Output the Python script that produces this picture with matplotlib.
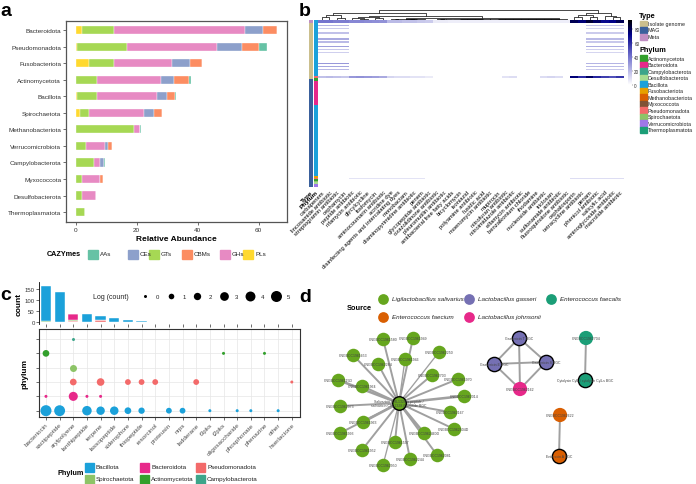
import numpy as np
import matplotlib
matplotlib.use('Agg')
import matplotlib.pyplot as plt
from matplotlib.colors import LinearSegmentedColormap, to_rgb
from matplotlib.patches import Rectangle

plt.rcParams['font.family'] = ['Liberation Sans', 'DejaVu Sans']

# ---------------- panel a data: CAZyme relative abundance ----------------
a_phyla = ['Bacteroidota', 'Pseudomonadota', 'Fusobacteriota', 'Actinomycetota', 'Bacillota',
           'Spirochaetota', 'Methanobacteriota', 'Verrucomicrobiota', 'Campylobacterota',
           'Myxococcota', 'Desulfobacterota', 'Thermoplasmatota']
a_pls = [2.0, 0.5, 4.4, 0.2, 0.5, 1.5, 0, 0, 0, 0, 0, 0]
a_gts = [10.5, 16.4, 8.2, 6.7, 6.6, 2.9, 19.0, 3.4, 6.0, 2.1, 2.1, 2.9]
a_ghs = [43.0, 29.3, 19.0, 21.1, 19.4, 18.0, 2.1, 6.2, 2.0, 5.9, 4.5, 0]
a_ces = [6.0, 8.4, 5.9, 4.1, 3.3, 3.4, 0, 0.9, 1.4, 0, 0, 0]
a_cbms = [4.6, 5.5, 4.0, 5.0, 2.8, 2.6, 0, 1.5, 0, 1.0, 0, 0]
a_aas = [0, 2.5, 0, 0.6, 0.4, 0, 0.3, 0, 0.3, 0, 0, 0]
cazy_legend = ['AAs', 'CEs', 'GTs', 'CBMs', 'GHs', 'PLs']
cazy_colors = {'AAs': '#66C2A5', 'CEs': '#8DA0CB', 'GTs': '#A6D854',
               'CBMs': '#FC8D62', 'GHs': '#E78AC3', 'PLs': '#FFD92F'}

# ---------------- panel b data: ARG heatmap ----------------
b_cols = ['carbapenem', 'lincosamide antibiotic', 'streptogramin antibiotic', 'cephamycin',
          'peptide antibiotic', 'rifamycin antibiotic', 'glycylcycline', 'fosfomycin',
          'aminocoumarin antibiotic', 'acridine dye', 'disinfecting agents and intercalating dyes',
          'monobactam', 'diaminopyrimidine antibiotic', 'penem', 'glycopeptide antibiotic',
          'oxazolidinone antibiotic', 'pleuromutilin antibiotic', 'antibacterial free fatty acids',
          'bicyclomycin', 'isoniazid', 'polyamine antibiotic', 'fusidic acid', 'moenomycin antibiotic',
          'mupirocin', 'nitrofuran antibiotic', 'nitroimidazole antibiotic', 'elfamycin antibiotic',
          'benzalkonium chloride', 'rhodamine', 'nucleoside antibiotic', 'triclosan',
          'sulfonamide antibiotic', 'fluoroquinolone antibiotic', 'cephalosporin',
          'tetracycline antibiotic', 'penam', 'phenicol antibiotic', 'salicylic acid',
          'aminoglycoside antibiotic', 'macrolide antibiotic']
type_runs = [('Meta', 2), ('Isolate genome', 37), ('MAG', 71)]
phylum_runs = [('Bacillota', 37), ('Pseudomonadota', 1), ('Actinomycetota', 2), ('Bacteroidota', 16),
               ('Bacillota', 47), ('Fusobacteriota', 1), ('Pseudomonadota', 1), ('Actinomycetota', 1),
               ('Spirochaetota', 1), ('Desulfobacterota', 1), ('Verrucomicrobiota', 2)]
type_colors = {'Isolate genome': '#CBBF8D', 'MAG': '#3A609C', 'Meta': '#C08EC3'}
phylum_colors = {'Actinomycetota': '#33A02C', 'Bacteroidota': '#E7298A', 'Campylobacterota': '#3DA58A',
                 'Desulfobacterota': '#A8DC90', 'Bacillota': '#1BA1DA', 'Fusobacteriota': '#E6A000',
                 'Methanobacteriota': '#D95F02', 'Myxococcota': '#7F5235', 'Pseudomonadota': '#F36A6A',
                 'Spirochaetota': '#8DC467', 'Verrucomicrobiota': '#9F77E8', 'Thermoplasmatota': '#1B9E77'}
meta_rows = [0, 1]
meta_row = [40, 40, 38, 38, 35, 35, 34, 33, 32, 20, 20, 18, 18, 16, 15, 6, 6, 5, 5, 5,
            5, 5, 5, 5, 5, 5, 5, 5, 5, 5, 5, 5, 5, 80, 75, 85, 78, 70, 72, 80]
band_idx = 37
band_row = [18, 20, 18, 16, 30, 32, 30, 28, 25, 12, 10, 10, 8, 8, 6, 0, 0, 0, 0, 0,
            0, 0, 0, 0, 8, 10, 0, 0, 0, 10, 12, 10, 0, 75, 60, 78, 62, 55, 50, 58]
streak_rows = [3, 5, 8, 12, 14, 17, 19, 21, 28, 30, 32]
streak_left = [22, 15, 18, 25, 20, 28, 16, 14, 30, 26, 20]
streak_right = [18, 12, 15, 20, 16, 24, 14, 12, 22, 20, 16]
faint_idx = 104
faint_row = [0, 0, 0, 0, 8, 8, 8, 8, 8, 8, 8, 8, 8, 8, 0, 0, 0, 0, 0, 0,
             0, 0, 0, 0, 0, 0, 0, 0, 0, 0, 0, 0, 0, 10, 10, 10, 10, 10, 10, 10]
# column dendrogram: (height, left, right), leaves are column indices
flat_cols = list(range(15, 33))
flat_heights = [0.05, 0.07, 0.04, 0.06, 0.08, 0.05, 0.09, 0.04, 0.06, 0.1,
                0.05, 0.07, 0.12, 0.06, 0.05, 0.14, 0.08]

# ---------------- panel c data: BGC counts ----------------
bgc_types = ['bacteriocin', 'sactipeptide', 'arylpolyene', 'lanthipeptide', 'terpene', 'lassopeptide',
             'siderophore', 'thiopeptide', 'resorcinol', 'proteusin', 'nrps', 'ladderane', 't3pks',
             't2pks', 'oligosaccharide', 'phosphonate', 'phenazine', 'other', 'hserlactone']
c_phyla = ['Bacillota', 'Bacteroidota', 'Pseudomonadota', 'Spirochaetota', 'Actinomycetota', 'Campylobacterota']
c_counts = {
    'Bacillota':        [158, 136, 0, 38, 16, 17, 5, 4, 0, 3, 3, 0, 1, 0, 1, 1, 0, 1, 0],
    'Bacteroidota':     [1, 0, 26, 1, 1, 0, 0, 0, 0, 0, 0, 0, 0, 0, 0, 0, 0, 0, 0],
    'Pseudomonadota':   [0, 0, 5, 0, 9, 0, 3, 3, 3, 0, 0, 3, 0, 0, 0, 0, 0, 0, 1],
    'Spirochaetota':    [0, 0, 6, 0, 0, 0, 0, 0, 0, 0, 0, 0, 0, 0, 0, 0, 0, 0, 0],
    'Actinomycetota':   [5, 0, 0, 0, 0, 0, 0, 0, 0, 0, 0, 0, 0, 1, 0, 0, 1, 0, 0],
    'Campylobacterota': [0, 0, 1, 0, 0, 0, 0, 0, 0, 0, 0, 0, 0, 0, 0, 0, 0, 0, 0],
}
c_stack = ['Campylobacterota', 'Pseudomonadota', 'Actinomycetota', 'Spirochaetota', 'Bacteroidota', 'Bacillota']
log_levels = [0, 1, 2, 3, 4, 5]

# ---------------- panel d data: BGC similarity network ----------------
source_colors = {'Ligilactobacillus salivarius': '#66A61E', 'Lactobacillus gasseri': '#7570B3',
                 'Enterococcus faecalis': '#1B9E77', 'Enterococcus faecium': '#D95F02',
                 'Lactobacillus johnsonii': '#E7298A'}
star_hub = 'Salivaricin CRL1328 \u03b1 peptide /\nsalivaricin CRL1328 \u03b2 peptide BGC'
star_leaves = ['CNGBCC1961580', 'CNGBCC1961949', 'CNGBCC1962250', 'CNGBCC1961653', 'CNGBCC1962284',
               'CNGBCC1961946', 'CNGBCC1962703', 'CNGBCC1961970', 'CNGBCC196115D', 'CNGBCC1961964',
               'CNGBCC1962014', 'CNGBCC1962973', 'CNGBCC1962167', 'CNGBCC1961963', 'CNGBCC1962504D',
               'CNGBCC1961993', 'CNGBCC1962460D', 'CNGBCC1961597', 'CNGBCC1961952', 'CNGBCC1962081',
               'CNGBCC1962244', 'CNGBCC1962950']
star_weight = [2, 2, 1, 2, 2, 1, 2, 2, 3, 2, 3, 2, 2, 3, 2, 2, 3, 2, 2, 2, 2, 1]
small_nodes = ['Gassericin T BGC', 'Gassericin E BGC', 'Gassericin S BGC', 'CNGBCC1962162',
               'CNGBCC1962704', 'Cytolysin CylL / cytolysin CylLs BGC', 'CNGBCC1962622', 'Enterocin A BGC']
small_source = ['Lactobacillus gasseri'] * 3 + ['Lactobacillus johnsonii'] + \
               ['Enterococcus faecalis'] * 2 + ['Enterococcus faecium'] * 2
small_is_bgc = [True, True, True, False, False, True, False, True]
small_edges = [(0, 1), (0, 2), (0, 3), (1, 2), (1, 3), (2, 3), (4, 5), (6, 7)]

# node layout of panel d (panel coordinates)
hub_pos = (399, 404)
star_pos = [(383, 340), (413, 339), (439, 353), (353, 356), (378, 365), (405, 360), (432, 376),
            (458, 380), (338, 381), (362, 387), (464, 397), (340, 407), (450, 413), (363, 423),
            (454, 430), (340, 434), (424, 434), (395, 443), (362, 451), (437, 456), (410, 460),
            (383, 466)]
small_pos = [(519, 339), (494, 365), (546, 363), (520, 390), (586, 339), (585, 381), (560, 416), (559, 457)]

# ---------------- figure ----------------
W, H = 696, 485
fig = plt.figure(figsize=(W / 100, H / 100), dpi=100)


def px_axes(x0, y0, x1, y1):
    return fig.add_axes([x0 / W, 1 - y1 / H, (x1 - x0) / W, (y1 - y0) / H])


# ---- a ----
axa = px_axes(66, 22, 287, 223)
ypos = np.arange(len(a_phyla))
left = np.zeros(len(a_phyla))
for name, vals in [('PLs', a_pls), ('GTs', a_gts), ('GHs', a_ghs), ('CEs', a_ces), ('CBMs', a_cbms), ('AAs', a_aas)]:
    axa.barh(ypos, vals, left=left, height=0.5, color=cazy_colors[name], edgecolor='white', linewidth=0.25)
    left += np.array(vals)
axa.set_xlim(-3.2, 69.3)
axa.set_ylim(11.6, -0.55)
axa.set_yticks(ypos, a_phyla)
axa.set_xticks([0, 20, 40, 60])
axa.tick_params(labelsize=4.6, length=2, width=0.5, pad=1.5, colors='#333333')
for s in axa.spines.values():
    s.set_color('#555555')
    s.set_linewidth(0.9)
axa.set_xlabel('Relative Abundance', fontsize=6, fontweight='bold', labelpad=2.5)

# ---- b ----
row_type = [t for t, n in type_runs for _ in range(n)]
row_phylum = [p for p, n in phylum_runs for _ in range(n)]
n_rows, n_cols = len(row_type), len(b_cols)
mat = np.zeros((n_rows, n_cols))
for r in meta_rows:
    mat[r] = meta_row
mat[band_idx] = band_row
for r, vl, vr in zip(streak_rows, streak_left, streak_right):
    mat[r, 0:4] = vl
    mat[r, 35:40] = vr
mat[faint_idx] = faint_row

heat_cmap = LinearSegmentedColormap.from_list(
    'heat', [(0, '#FFFFFF'), (0.45, '#7070CC'), (0.78, '#000088'), (1, '#000000')])
axh = px_axes(318, 21, 624, 188)
im = axh.imshow(mat, aspect='auto', cmap=heat_cmap, vmin=0, vmax=93, interpolation='nearest')
axh.set_yticks([])
axh.set_xticks(range(n_cols), b_cols, rotation=45, ha='right', rotation_mode='anchor', fontsize=4.2)
axh.tick_params(axis='x', length=0, pad=1.5)
for s in axh.spines.values():
    s.set_visible(False)

for (x0, x1), rows, cmap_d, lab in [((309, 312.5), row_type, type_colors, 'Type'),
                                     ((313.5, 317), row_phylum, phylum_colors, 'Phylum')]:
    ax_an = px_axes(x0, 21, x1, 188)
    ax_an.imshow(np.array([to_rgb(cmap_d[v]) for v in rows])[:, None, :], aspect='auto',
                 interpolation='nearest')
    ax_an.set_yticks([])
    ax_an.set_xticks([0], [lab], rotation=45, ha='right', rotation_mode='anchor',
                     fontsize=4.6, fontweight='bold')
    ax_an.tick_params(axis='x', length=0, pad=1.5)
    for s in ax_an.spines.values():
        s.set_visible(False)

# column dendrogram
node = flat_cols[0]
for c, h in zip(flat_cols[1:], flat_heights):
    node = (h, node, c)
dend_tree = (1.0,
             (0.72,
              (0.45, (0.28, 0, 1), (0.22, 2, 3)),
              (0.38,
               (0.26, (0.18, 4, (0.12, 5, 6)), (0.15, 7, 8)),
               (0.2, (0.1, (0.06, 9, 10), (0.08, (0.05, 11, 12), (0.04, 13, 14))), node))),
             (0.66,
              (0.48, (0.3, 33, 34), (0.26, 35, 36)),
              (0.42, 37, (0.3, 38, 39))))

axdn = px_axes(318, 10.5, 624, 21)
axdn.set_xlim(-0.5, n_cols - 0.5)
axdn.set_ylim(0, 1.03)
axdn.axis('off')


def draw_tree(ax, nd):
    if isinstance(nd, int):
        return nd, 0.0
    h, a, b = nd
    xa, ha = draw_tree(ax, a)
    xb, hb = draw_tree(ax, b)
    ax.plot([xa, xa, xb, xb], [ha, h, h, hb], color='black', lw=0.5, solid_capstyle='butt')
    return (xa + xb) / 2, h


draw_tree(axdn, dend_tree)

cax = px_axes(627.5, 21, 631.5, 86)
cb = fig.colorbar(im, cax=cax, ticks=[0, 20, 40, 60, 80])
cb.outline.set_visible(False)
cax.tick_params(labelsize=3.3, length=1, width=0.3, pad=1, colors='#333333')

# ---- c ----
xcat = np.arange(1, len(bgc_types) + 1)
axbar = px_axes(39, 283, 300, 325)
bottom = np.zeros(len(bgc_types))
for ph in c_stack:
    vals = np.array(c_counts[ph])
    axbar.bar(xcat, vals, bottom=bottom, width=0.75, color=phylum_colors[ph], edgecolor='white', linewidth=0.3)
    bottom += vals
axbar.set_xlim(0.49, 19.6)
axbar.set_ylim(-8, 181)
axbar.set_yticks([0, 50, 100, 150])
axbar.set_xticks(xcat, [''] * len(xcat))
axbar.tick_params(labelsize=4.3, length=2, width=0.5, pad=1, colors='#333333')
for s in ['top', 'right', 'bottom']:
    axbar.spines[s].set_visible(False)
axbar.spines['left'].set_linewidth(0.6)
axbar.set_ylabel('count', fontsize=6, fontweight='bold', labelpad=1.5)


def bubble_size(level):
    return 0.5184 * (9 + 22.4 * np.asarray(level))


axbub = px_axes(39, 330, 300, 418)
for i, ph in enumerate(c_phyla):
    cnt = np.array(c_counts[ph])
    keep = cnt > 0
    axbub.scatter(xcat[keep], np.full(keep.sum(), i + 1), s=bubble_size(np.log(cnt[keep])),
                  color=phylum_colors[ph], linewidths=0, zorder=3)
axbub.set_xlim(0.49, 19.6)
axbub.set_ylim(0.56, 6.7)
axbub.set_xticks(xcat, bgc_types, rotation=45, ha='right', rotation_mode='anchor')
axbub.set_yticks(range(1, 7), [''] * 6)
axbub.grid(True, color='#E6E6E6', lw=0.5)
axbub.set_axisbelow(True)
axbub.tick_params(labelsize=4.6, length=2, width=0.5, pad=1.5, colors='#333333', labelcolor='#4D4D4D')
for s in axbub.spines.values():
    s.set_color('#333333')
    s.set_linewidth(0.8)
axbub.set_ylabel('phylum', fontsize=6, fontweight='bold', labelpad=4)

# ---- d ----
axn = px_axes(300, 325, 696, 485)
axn.set_xlim(300, 696)
axn.set_ylim(485, 325)
axn.axis('off')
for (x, y), w in zip(star_pos, star_weight):
    axn.plot([hub_pos[0], x], [hub_pos[1], y], color='#A0A0A0', lw=0.5 + 0.45 * w, zorder=1)
for i, j in small_edges:
    axn.plot([small_pos[i][0], small_pos[j][0]], [small_pos[i][1], small_pos[j][1]],
             color='#A0A0A0', lw=1.4, zorder=1)
sal = source_colors['Ligilactobacillus salivarius']
axn.scatter([p[0] for p in star_pos], [p[1] for p in star_pos], s=95, color=sal, linewidths=0, zorder=2)
axn.scatter([hub_pos[0]], [hub_pos[1]], s=95, color=sal, edgecolors='black', linewidths=1.0, zorder=3)
for name, (x, y) in zip(star_leaves, star_pos):
    axn.text(x, y, name, fontsize=2.5, color='#444444', ha='center', va='center', zorder=4)
axn.text(hub_pos[0], hub_pos[1], star_hub, fontsize=2.5, color='#444444', ha='center', va='center',
         zorder=4, linespacing=1.3)
for name, src, bgc, (x, y) in zip(small_nodes, small_source, small_is_bgc, small_pos):
    axn.scatter([x], [y], s=105, color=source_colors[src], edgecolors='black' if bgc else 'none',
                linewidths=1.0 if bgc else 0, zorder=2)
    axn.text(x, y, name, fontsize=2.5, color='#444444', ha='center', va='center', zorder=4)

# ---- legends and panel letters (figure pixel overlay) ----
ov = fig.add_axes([0, 0, 1, 1])
ov.set_xlim(0, W)
ov.set_ylim(H, 0)
ov.axis('off')

for letter, x, y in [('a', 0, 15.5), ('b', 299, 15.5), ('c', 0, 300.5), ('d', 299, 302)]:
    ov.text(x, y, letter, fontsize=14, fontweight='bold', va='baseline', ha='left')

# a legend
ov.text(47, 255, 'CAZYmes', fontsize=5.2, fontweight='bold', va='center')
for name, kx in zip(cazy_legend, [88, 128, 149, 182, 220, 243]):
    ov.add_patch(Rectangle((kx, 250.5), 9.5, 9, color=cazy_colors[name]))
    ov.text(kx + 12, 255, name, fontsize=4.5, va='center', color='#222222')

# b legend
ov.text(639, 16, 'Type', fontsize=5.3, fontweight='bold', va='center')
for k, name in enumerate(['Isolate genome', 'MAG', 'Meta']):
    yy = 24.5 + 6.5 * k
    ov.add_patch(Rectangle((639.5, yy - 3), 7, 6.3, color=type_colors[name]))
    ov.text(647.5, yy, name, fontsize=3.9, va='center', color='#222222')
ov.text(639, 51, 'Phylum', fontsize=5.3, fontweight='bold', va='center')
for k, name in enumerate(phylum_colors):
    yy = 59.3 + 6.5 * k
    ov.add_patch(Rectangle((639.5, yy - 3), 7, 6.3, color=phylum_colors[name]))
    ov.text(647.5, yy, name, fontsize=3.9, va='center', color='#222222')

# c size legend
ov.text(93, 297.3, 'Log (count)', fontsize=5, va='center', color='#222222')
for k, lv in enumerate(log_levels):
    xx = 145 + 26.2 * k
    ov.scatter([xx], [297.3], s=bubble_size(lv), color='black', linewidths=0)
    ov.text(xx + 11, 297.3, str(lv), fontsize=4.3, va='center', color='#222222')

# c phylum legend
ov.text(57, 474, 'Phylum', fontsize=5.2, fontweight='bold', va='center')
for k, name in enumerate(['Bacillota', 'Bacteroidota', 'Pseudomonadota',
                          'Spirochaetota', 'Actinomycetota', 'Campylobacterota']):
    kx = [85, 140, 196][k % 3]
    yy = [468, 480][k // 3]
    ov.add_patch(Rectangle((kx, yy - 4.5), 9, 9, color=phylum_colors[name]))
    ov.text(kx + 11, yy, name, fontsize=4.5, va='center', color='#222222')

# d legend
ov.text(347, 309, 'Source', fontsize=5.3, fontweight='bold', va='center')
for k, name in enumerate(['Ligilactobacillus salivarius', 'Lactobacillus gasseri', 'Enterococcus faecalis',
                          'Enterococcus faecium', 'Lactobacillus johnsonii']):
    kx = [383, 469, 551][k % 3]
    yy = [300, 318][k // 3]
    ov.scatter([kx], [yy], s=60, color=source_colors[name], linewidths=0)
    ov.text(kx + 9, yy, name, fontsize=4.5, va='center', style='italic', color='#222222')

fig.savefig('out.png', dpi=100, facecolor='white')
